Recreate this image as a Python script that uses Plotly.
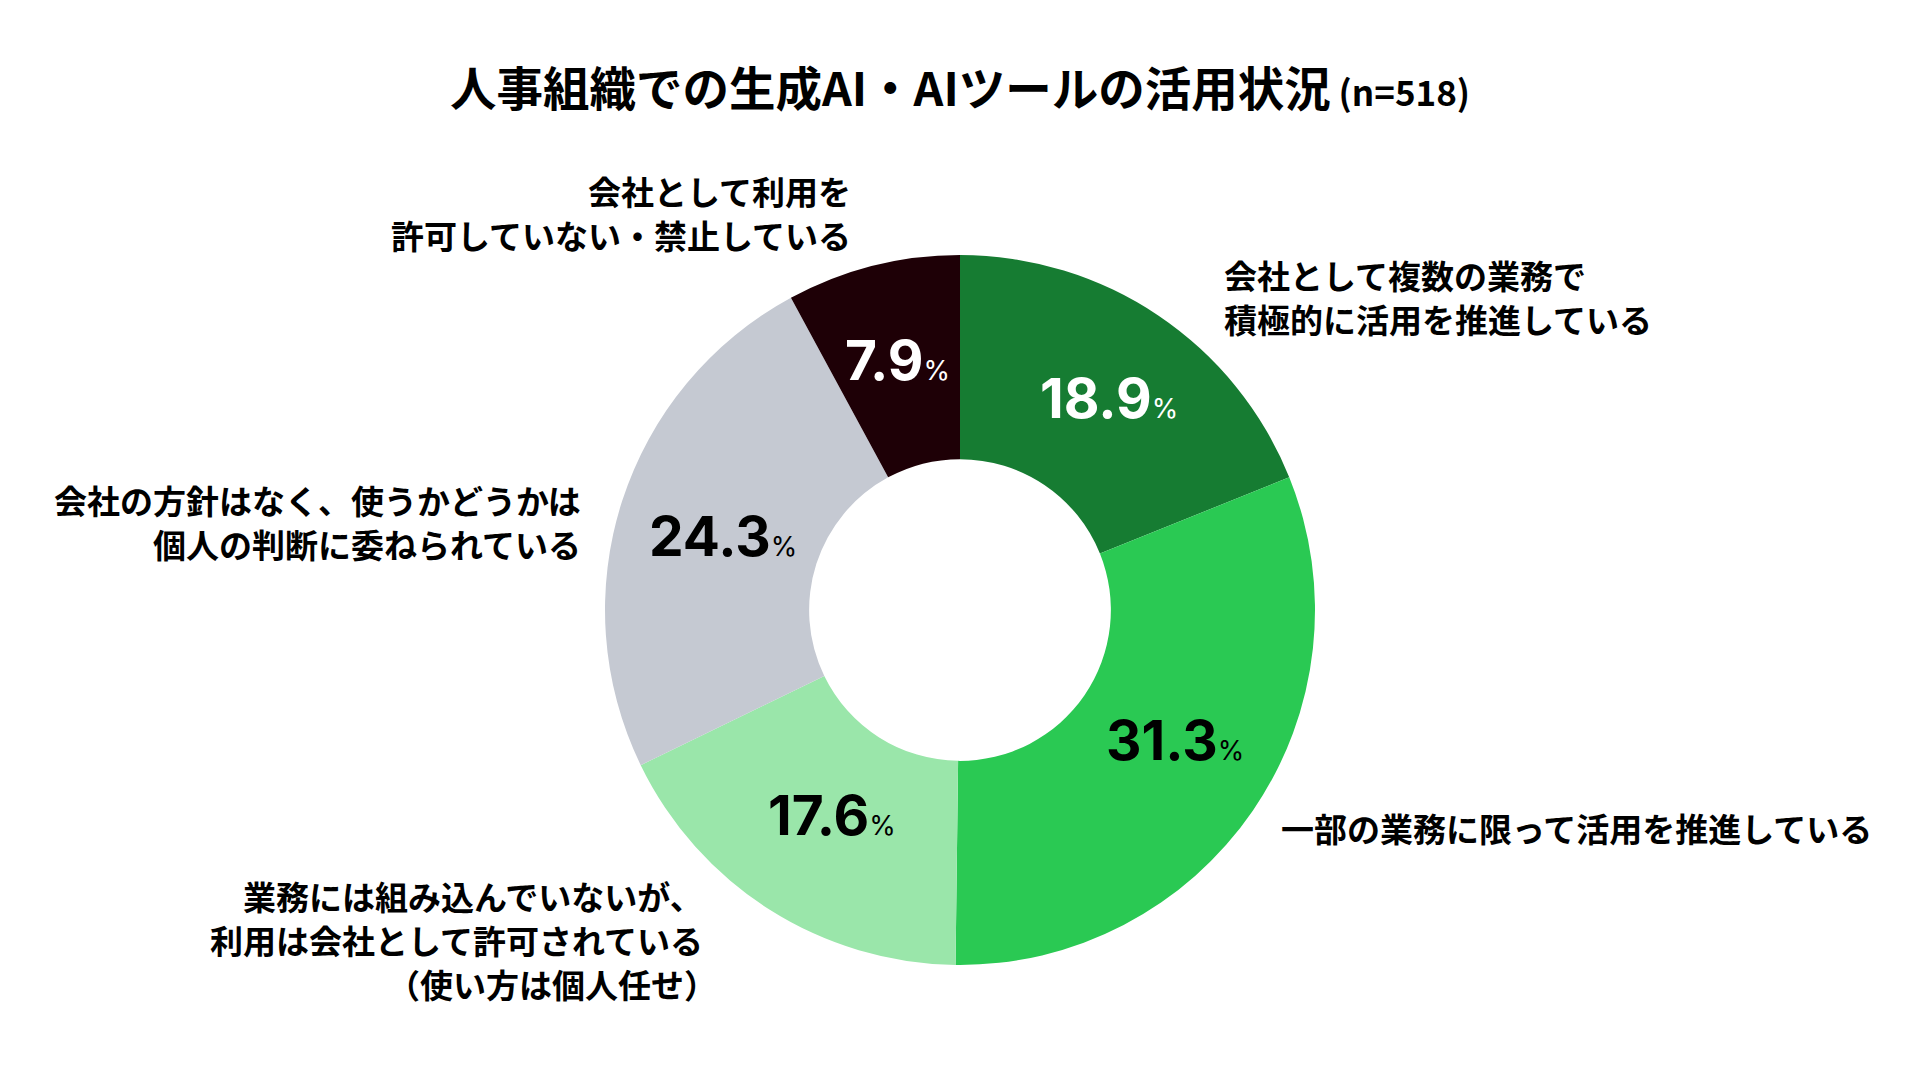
import numpy as np
import plotly.graph_objects as go

# data (n=518)
labels = [
    "会社として複数の業務で<br>積極的に活用を推進している",
    "一部の業務に限って活用を推進している",
    "業務には組み込んでいないが、<br>利用は会社として許可されている<br>（使い方は個人任せ）",
    "会社の方針はなく、使うかどうかは<br>個人の判断に委ねられている",
    "会社として利用を<br>許可していない・禁止している",
]
values = [18.9, 31.3, 17.6, 24.3, 7.9]
colors = ["#167C32", "#2AC953", "#9AE6AA", "#C5C9D2", "#1E0006"]
value_colors = ["white", "black", "black", "black", "white"]

W, H = 1920, 1080
cx, cy, R = 960, 610, 355      # donut centre / outer radius in px
hole = 0.425
CJK = "Noto Sans CJK JP"
NUM = "Inter, Roboto, sans-serif"

fig = go.Figure()
fig.add_trace(go.Pie(
    labels=labels, values=values,
    marker=dict(colors=colors, line=dict(width=0)),
    hole=hole, sort=False, direction="clockwise", rotation=0,
    textinfo="none", hoverinfo="label+percent", showlegend=False,
    domain=dict(x=[(cx - R) / W, (cx + R) / W],
                y=[(H - cy - R) / H, (H - cy + R) / H]),
))

# percentage labels in the middle of the ring, from the slice angles
r_lab = 256
nudge = [(6, 0), (4, -15), (9, -11), (7, 4), (0, -2)]   # small px tweaks
mids = (np.cumsum(values) - np.array(values) / 2) / np.sum(values) * 2 * np.pi
for v, a, c, (dx, dy) in zip(values, mids, value_colors, nudge):
    fig.add_annotation(
        x=(cx + r_lab * np.sin(a) + dx) / W,
        y=(H - cy + r_lab * np.cos(a) - dy) / H,
        xref="paper", yref="paper", showarrow=False,
        text=f"<b>{v:.1f}</b><span style='font-size:27px'>%</span>",
        font=dict(family=NUM, size=55, color=c),
        xanchor="center", yanchor="middle",
    )

# category labels outside the ring, one annotation per line
label_pos = [  # (x px, y px of block centre, xanchor)
    (1223, 297, "left"),
    (1280, 828, "left"),
    (704, 940, "right"),
    (582, 522, "right"),
    (852, 213, "right"),
]
line_gap = 44
for lab, (x, y, anc) in zip(labels, label_pos):
    lines = lab.split("<br>")
    for k, line in enumerate(lines):
        ly = y + (k - (len(lines) - 1) / 2) * line_gap
        # full-width closing paren leaves blank space on its right
        shift = 14 if (anc == "right" and line.endswith("）")) else 0
        fig.add_annotation(
            x=x / W, y=1 - ly / H, xref="paper", yref="paper", showarrow=False,
            text=f"<b>{line}</b>", xanchor=anc, yanchor="middle", borderpad=0,
            xshift=shift, font=dict(family=CJK, size=33, color="black"),
        )

fig.update_layout(
    width=W, height=H,
    margin=dict(l=0, r=0, t=0, b=0),
    paper_bgcolor="white", plot_bgcolor="white",
    title=dict(
        text="<b>人事組織での生成AI・AIツールの活用状況</b>"
             "<span style='font-size:35px'> <b>(n=518)</b></span>",
        x=960 / W, y=1 - 90 / H, xanchor="center", yanchor="middle",
        font=dict(family=CJK, size=46.5, color="black"),
    ),
)

# drop the browser's default body margin so the figure sits at 0,0
fig.write_html("out.html", config={"displayModeBar": False},
               post_script="document.body.style.margin='0';")
